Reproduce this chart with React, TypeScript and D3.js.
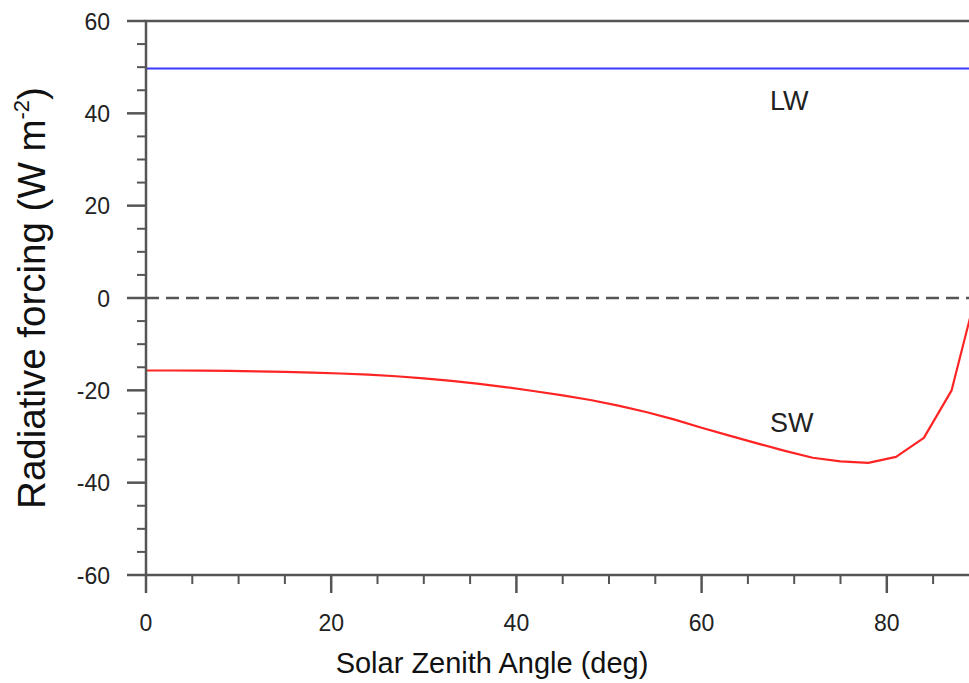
import { useEffect, useRef } from "react";
import * as d3 from "d3";

const zenithAngles = [0, 3, 6, 9, 12, 15, 18, 21, 24, 27, 30, 33, 36, 39, 42, 45, 48, 51, 54, 57, 60, 63, 66, 69, 72, 75, 78, 81, 84, 87, 89];
const swForcing = [-15.7, -15.7, -15.75, -15.8, -15.9, -16.0, -16.15, -16.35, -16.6, -16.95, -17.4, -17.95, -18.6, -19.35, -20.2, -21.1, -22.1, -23.3, -24.7, -26.3, -28.1, -29.8, -31.5, -33.1, -34.6, -35.4, -35.7, -34.4, -30.3, -20.0, -4.2];
const lwForcing = 49.7;
const xTicks = [0, 20, 40, 60, 80];
const yTicks = [-60, -40, -20, 0, 20, 40, 60];

const FONT = "'Liberation Sans', Arial, Helvetica, sans-serif";

function App() {
  const svgRef = useRef<SVGSVGElement>(null);

  useEffect(() => {
    const svgElement = svgRef.current;
    if (!svgElement) return;

    const width = 969;
    const height = 683;
    const axisColor = "#555";

    const svg = d3.select(svgElement).attr("width", width).attr("height", height);

    const xScale = d3.scaleLinear().domain([0, 90]).range([146, 146 + 90 * 9.26]);
    const yScale = d3.scaleLinear().domain([-60, 60]).range([575, 21]);

    const x0 = xScale(0);
    const x1 = xScale(90);
    const yTop = yScale(60);
    const yBot = yScale(-60);

    // zero line (dashed)
    svg
      .append("line")
      .attr("x1", x0)
      .attr("x2", x1)
      .attr("y1", yScale(0))
      .attr("y2", yScale(0))
      .attr("stroke", axisColor)
      .attr("stroke-width", 2.5)
      .attr("stroke-dasharray", "13,7");

    // LW line
    svg
      .append("line")
      .attr("x1", x0)
      .attr("x2", x1)
      .attr("y1", yScale(lwForcing))
      .attr("y2", yScale(lwForcing))
      .attr("stroke", "#3a3aff")
      .attr("stroke-width", 2);

    // SW curve
    const line = d3
      .line<number>()
      .x((_, i) => xScale(zenithAngles[i]))
      .y((d) => yScale(d));

    svg
      .append("path")
      .datum(swForcing)
      .attr("d", line)
      .attr("fill", "none")
      .attr("stroke", "#ff2424")
      .attr("stroke-width", 2.2)
      .attr("stroke-linejoin", "round");

    // frame
    svg
      .append("rect")
      .attr("x", x0)
      .attr("y", yTop)
      .attr("width", x1 - x0)
      .attr("height", yBot - yTop)
      .attr("fill", "none")
      .attr("stroke", axisColor)
      .attr("stroke-width", 2.5);

    // y ticks
    const yMinor = d3.range(-60, 61, 5).filter((v) => v % 20 !== 0);
    svg
      .selectAll(".ymajor")
      .data(yTicks)
      .enter()
      .append("line")
      .attr("x1", x0 - 19)
      .attr("x2", x0)
      .attr("y1", (d) => yScale(d))
      .attr("y2", (d) => yScale(d))
      .attr("stroke", axisColor)
      .attr("stroke-width", 2.5);
    svg
      .selectAll(".yminor")
      .data(yMinor)
      .enter()
      .append("line")
      .attr("x1", x0 - 9)
      .attr("x2", x0)
      .attr("y1", (d) => yScale(d))
      .attr("y2", (d) => yScale(d))
      .attr("stroke", axisColor)
      .attr("stroke-width", 2);
    svg
      .selectAll(".ylabel")
      .data(yTicks)
      .enter()
      .append("text")
      .attr("x", 110)
      .attr("y", (d) => yScale(d) + 8.5)
      .attr("text-anchor", "end")
      .style("font-family", FONT)
      .style("font-size", "23px")
      .style("fill", "#222")
      .text((d) => d);

    // x ticks
    const xMinor = d3.range(0, 91, 5).filter((v) => v % 20 !== 0);
    svg
      .selectAll(".xmajor")
      .data(xTicks)
      .enter()
      .append("line")
      .attr("x1", (d) => xScale(d))
      .attr("x2", (d) => xScale(d))
      .attr("y1", yBot)
      .attr("y2", yBot + 18)
      .attr("stroke", axisColor)
      .attr("stroke-width", 2.5);
    svg
      .selectAll(".xminor")
      .data(xMinor)
      .enter()
      .append("line")
      .attr("x1", (d) => xScale(d))
      .attr("x2", (d) => xScale(d))
      .attr("y1", yBot)
      .attr("y2", yBot + 9)
      .attr("stroke", axisColor)
      .attr("stroke-width", 2);
    svg
      .selectAll(".xlabel")
      .data(xTicks)
      .enter()
      .append("text")
      .attr("x", (d) => xScale(d))
      .attr("y", 631)
      .attr("text-anchor", "middle")
      .style("font-family", FONT)
      .style("font-size", "23px")
      .style("fill", "#222")
      .text((d) => d);

    // series labels
    svg
      .append("text")
      .attr("x", 770)
      .attr("y", 110)
      .style("font-family", FONT)
      .style("font-size", "27px")
      .style("fill", "#222")
      .text("LW");
    svg
      .append("text")
      .attr("x", 770)
      .attr("y", 432)
      .style("font-family", FONT)
      .style("font-size", "27px")
      .style("fill", "#222")
      .text("SW");

    // axis titles
    svg
      .append("text")
      .attr("x", 492)
      .attr("y", 673)
      .attr("text-anchor", "middle")
      .style("font-family", FONT)
      .style("font-size", "29px")
      .style("fill", "#111")
      .text("Solar Zenith Angle (deg)");

    const yTitle = svg
      .append("text")
      .attr("transform", "translate(45,298) rotate(-90)")
      .attr("text-anchor", "middle")
      .style("font-family", FONT)
      .style("font-size", "38.5px")
      .style("fill", "#111");
    yTitle.append("tspan").text("Radiative forcing (W m");
    yTitle.append("tspan").attr("dy", -16).style("font-size", "22px").text("-2");
    yTitle.append("tspan").attr("dy", 16).text(")");

    return () => {
      d3.select(svgElement).selectAll("*").remove();
    };
  }, []);

  return (
    <svg
      ref={svgRef}
      style={{ position: "absolute", left: 0, top: 0, display: "block", background: "#fff" }}
    ></svg>
  );
}

export default App;
